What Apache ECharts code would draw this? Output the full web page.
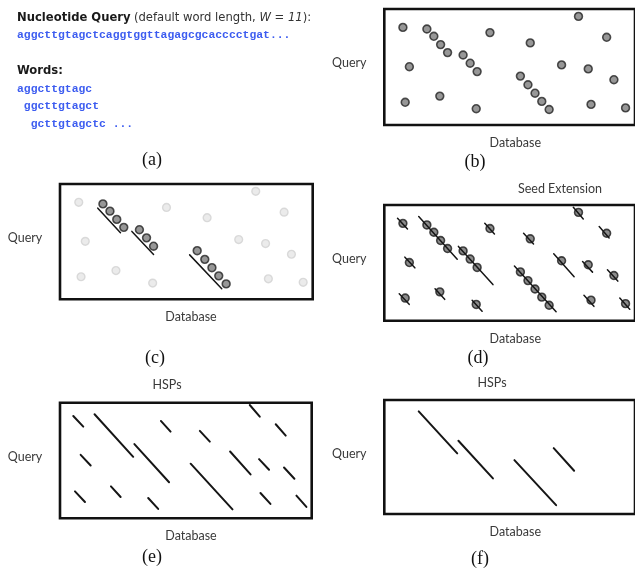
<!DOCTYPE html>
<html>
<head>
<meta charset="utf-8">
<title>BLAST seeding and extension</title>
<script src="https://cdn.jsdelivr.net/npm/echarts@6/dist/echarts.min.js"></script>
<style>
  html, body { margin: 0; padding: 0; background: #ffffff; }
  #chart { width: 635px; height: 570px; }
</style>
</head>
<body>
<div id="chart"></div>
<script>
// ---- Sequence text shown in panel (a) ----
const querySequence = 'aggcttgtagctcaggtggttagagcgcacccctgat...';
const queryWords = ['aggcttgtagc', ' ggcttgtagct', '  gcttgtagctc ...'];
const wordLength = 11;

// ---- Dot-plot data: [database position, query position] ----
// word hits that stand alone
const isolatedHits = [
  [18.7, 18.4], [25.2, 57.7], [21.0, 93.3], [55.8, 87.1], [106.2, 23.6],
  [92.4, 99.7], [146.7, 33.9], [178.2, 55.9], [195.2, 7.4], [205.0, 59.9],
  [223.5, 28.3], [230.8, 70.7], [207.8, 95.4], [242.5, 98.9]
];
// word hits that line up on a diagonal (seeds)
const seedHits = [
  [42.8, 20.0], [49.8, 27.3], [56.6, 35.6], [63.6, 43.6],
  [79.2, 46.0], [86.3, 54.2], [93.3, 62.6],
  [136.8, 67.1], [144.4, 75.8], [151.5, 84.2], [158.3, 92.4], [165.7, 100.5]
];
// diagonal runs marked under each seed group: [x1, y1, x2, y2]
const seedRuns = [
  [37.7, 24.3, 60.3, 49.0],
  [71.7, 47.7, 93.3, 71.0],
  [129.3, 71.3, 161.3, 105.3]
];
// high-scoring segment pairs after extension: [x1, y1, x2, y2]
const hspSegments = [
  [13.3, 13.3, 23.3, 24.0],
  [34.6, 11.6, 73.3, 54.3],
  [101.0, 18.3, 110.7, 29.0],
  [140.0, 28.3, 150.0, 39.0],
  [190.0, 2.3, 200.0, 14.0],
  [216.0, 21.6, 226.0, 33.0],
  [20.7, 52.3, 30.7, 63.0],
  [74.5, 41.5, 109.2, 79.8],
  [170.3, 49.0, 190.8, 72.0],
  [199.3, 56.6, 209.3, 67.3],
  [224.3, 65.0, 234.7, 76.3],
  [130.8, 61.2, 172.7, 107.0],
  [15.0, 89.0, 25.0, 99.6],
  [51.0, 84.0, 60.7, 94.6],
  [88.3, 95.6, 98.3, 106.6],
  [200.7, 90.6, 210.7, 101.6],
  [236.7, 93.3, 246.7, 104.6]
];
// only HSPs longer than this survive the final cut
const hspMinLength = 25;

const dbExtent = 252;
const queryExtent = 116;

// ---- Layout of the five dot-plot panels ----
const panels = [
  { key: 'b', left: 384.3, top: 9,     width: 252,   height: 116,   caption: '(b)', capX: 475, capY: 162 },
  { key: 'c', left: 60,    top: 184,   width: 252.7, height: 115.3, caption: '(c)', capX: 155, capY: 358 },
  { key: 'd', left: 384.3, top: 205,   width: 252,   height: 115.7, caption: '(d)', capX: 478, capY: 358, title: 'Seed Extension', titleX: 560, titleY: 189 },
  { key: 'e', left: 60,    top: 402.7, width: 251.7, height: 115.6, caption: '(e)', capX: 152, capY: 557, title: 'HSPs', titleX: 167, titleY: 385 },
  { key: 'f', left: 384.3, top: 400,   width: 252,   height: 114,   caption: '(f)', capX: 480, capY: 559, title: 'HSPs', titleX: 492, titleY: 383 }
];

const labelFont = 'Lato, "Open Sans", sans-serif';
const captionFont = '"Liberation Serif", "DejaVu Serif", serif';
const monoFont = '"Liberation Mono", "DejaVu Sans Mono", monospace';
const sansFont = '"DejaVu Sans", Verdana, sans-serif';
const seqBlue = '#3c5cf0';

const grids = panels.map(p => ({
  left: p.left, top: p.top, width: p.width, height: p.height,
  show: true, borderColor: '#111111', borderWidth: 2.6, backgroundColor: 'transparent',
  containLabel: false
}));
const xAxes = panels.map((p, i) => ({ type: 'value', gridIndex: i, min: 0, max: dbExtent, show: false }));
const yAxes = panels.map((p, i) => ({ type: 'value', gridIndex: i, min: 0, max: queryExtent, inverse: true, show: false }));

const idx = key => panels.findIndex(p => p.key === key);
const toLines = segs => segs.map(s => ({ coords: [[s[0], s[1]], [s[2], s[3]]] }));
const segLength = s => Math.hypot(s[2] - s[0], s[3] - s[1]);

const darkDot = { color: '#7d7d7d', borderColor: '#262626', borderWidth: 1.6 };
const lightDot = { color: '#e6e6e6', borderColor: '#d2d2d2', borderWidth: 1.4 };

function scatter(key, data, style, z) {
  const i = idx(key);
  return {
    type: 'scatter', xAxisIndex: i, yAxisIndex: i, data: data,
    symbol: 'circle', symbolSize: 7.8, itemStyle: style, silent: true, z: z || 2
  };
}
function segments(key, segs, width, z) {
  const i = idx(key);
  return {
    type: 'lines', coordinateSystem: 'cartesian2d', xAxisIndex: i, yAxisIndex: i,
    data: toLines(segs), polyline: false, silent: true, z: z || 3,
    lineStyle: { color: '#161616', width: width, opacity: 1, cap: 'round' }
  };
}

const allHits = isolatedHits.concat(seedHits);
const keptHsps = hspSegments.filter(s => segLength(s) > hspMinLength);

const series = [
  // (b) every word hit
  scatter('b', allHits, darkDot),
  // (c) seeds highlighted, other hits faded
  scatter('c', isolatedHits, lightDot),
  scatter('c', seedHits, darkDot),
  segments('c', seedRuns, 1.5),
  // (d) hits with their extensions
  scatter('d', allHits, { color: '#6f6f6f', borderColor: '#1e1e1e', borderWidth: 1.6 }),
  segments('d', hspSegments, 1.5, 4),
  // (e) all HSPs
  segments('e', hspSegments, 2),
  // (f) HSPs that pass the cutoff
  segments('f', keptHsps, 2)
];

// ---- Text elements ----
const graphics = [];
panels.forEach(p => {
  graphics.push({
    type: 'text', x: p.left - 35, y: p.top + 54, silent: true,
    style: { text: 'Query', fontFamily: labelFont, fontSize: 12.5, fill: '#3a3a3a', align: 'center', verticalAlign: 'middle' }
  });
  graphics.push({
    type: 'text', x: p.left + 131, y: p.top + p.height + 18, silent: true,
    style: { text: 'Database', fontFamily: labelFont, fontSize: 12.5, fill: '#3a3a3a', align: 'center', verticalAlign: 'middle' }
  });
  graphics.push({
    type: 'text', x: p.capX, y: p.capY, silent: true,
    style: { text: p.caption, fontFamily: captionFont, fontSize: 18, fill: '#111111', align: 'center', verticalAlign: 'middle' }
  });
  if (p.title) {
    graphics.push({
      type: 'text', x: p.titleX, y: p.titleY, silent: true,
      style: { text: p.title, fontFamily: labelFont, fontSize: 12.5, fill: '#3a3a3a', align: 'center', verticalAlign: 'middle' }
    });
  }
});

// panel (a): query sequence and its overlapping words
graphics.push({
  type: 'text', x: 17, y: 18, silent: true,
  style: {
    text: '{b|Nucleotide Query} {r|(default word length, }{i|W}{r| = }{i|' + wordLength + '}{r|):}',
    verticalAlign: 'middle', align: 'left',
    rich: {
      b: { fontFamily: sansFont, fontSize: 11.6, fontWeight: 'bold', fill: '#1a1a1a' },
      r: { fontFamily: sansFont, fontSize: 11.6, fill: '#333333' },
      i: { fontFamily: sansFont, fontSize: 11.6, fontStyle: 'italic', fill: '#333333' }
    }
  }
});
graphics.push({
  type: 'text', x: 17, y: 35, silent: true,
  style: { text: querySequence, fontFamily: monoFont, fontSize: 11.4, fontWeight: 'bold', fill: seqBlue, align: 'left', verticalAlign: 'middle' }
});
graphics.push({
  type: 'text', x: 17, y: 71, silent: true,
  style: { text: 'Words:', fontFamily: sansFont, fontSize: 11.6, fontWeight: 'bold', fill: '#1a1a1a', align: 'left', verticalAlign: 'middle' }
});
queryWords.forEach((w, k) => {
  graphics.push({
    type: 'text', x: 17, y: 89 + k * 17.5, silent: true,
    style: { text: w, fontFamily: monoFont, fontSize: 11.4, fontWeight: 'bold', fill: seqBlue, align: 'left', verticalAlign: 'middle' }
  });
});
graphics.push({
  type: 'text', x: 152, y: 160, silent: true,
  style: { text: '(a)', fontFamily: captionFont, fontSize: 18, fill: '#111111', align: 'center', verticalAlign: 'middle' }
});

const chart = echarts.init(document.getElementById('chart'), null, { renderer: 'canvas' });
chart.setOption({
  backgroundColor: '#ffffff',
  animation: false,
  grid: grids,
  xAxis: xAxes,
  yAxis: yAxes,
  series: series,
  graphic: graphics
});
</script>
</body>
</html>
